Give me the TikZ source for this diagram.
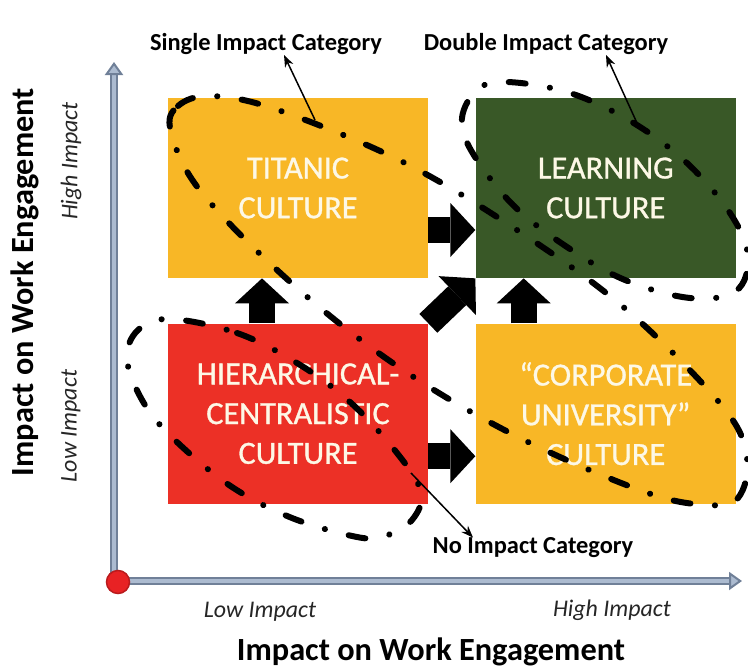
\documentclass[tikz,border=0pt]{standalone}
\usepackage{fontspec}
\setmainfont{Carlito}
\newfontfamily\boxfont[FakeBold=0.9]{Carlito}
\usepackage{tikz}
\usetikzlibrary{arrows.meta,positioning,calc}
\usepackage{xcolor}
\definecolor{gold}{RGB}{248,183,38}
\definecolor{darkgreen}{RGB}{57,88,39}
\definecolor{boxred}{RGB}{236,48,38}
\definecolor{cream}{RGB}{253,248,230}
\definecolor{axisfill}{RGB}{172,187,208}
\definecolor{axisedge}{RGB}{112,128,152}
\definecolor{dotred}{RGB}{232,34,36}
\tikzset{
    culturebox/.style={
        rectangle,
        minimum width=52mm,
        minimum height=36mm,
        inner sep=0pt,
        text=cream,
        align=center,
        font=\boxfont\fontsize{18.4}{22.6}\selectfont
    },
    blockarrow/.style={
        black,
        line width=5.2mm,
        -{Triangle[length=5mm,width=10.8mm,line width=0pt]}
    },
    catloop/.style={
        black,
        line width=1.2mm,
        line cap=round,
        dash pattern=on 3.4mm off 4.9mm on 0.1pt off 4.9mm
    },
    pointer/.style={
        black,
        line width=0.3mm,
        -{Stealth[length=2.4mm,width=1.8mm]}
    },
    axisline/.style={
        draw=axisedge,
        line width=0.4mm,
        double=axisfill,
        double distance=0.8mm,
        -{Triangle[length=2.6mm,width=3.6mm,fill=axisfill]}
    },
    catlabel/.style={
        inner sep=0pt,
        font=\bfseries\fontsize{13.9}{16}\selectfont
    },
    impactlabel/.style={
        text=black!85,
        font=\itshape\fontsize{13.6}{16}\selectfont
    },
    axislabel/.style={
        font=\bfseries\fontsize{18.4}{22}\selectfont
    }
}

\begin{document}
\begin{tikzpicture}[x=0.2mm,y=-0.2mm]
    \useasboundingbox (0,0) rectangle (748,669);

    % Axes
    \coordinate (orig) at (114,581);
    \coordinate (ytip) at (114,62);
    \coordinate (xtip) at (742,581);
    \draw[axisline] (orig) -- (ytip);
    \draw[axisline] (orig) -- (xtip);
    \node[circle, fill=dotred, draw=dotred!80!black, line width=0.3mm,
          minimum size=4.6mm, inner sep=0pt] (origin) at (118,582) {};

    % Culture quadrants
    \node[culturebox, fill=gold] (titanic) at (298,188) {TITANIC\\CULTURE};
    \node[culturebox, fill=darkgreen, right=9.4mm of titanic] (learning) {LEARNING\\CULTURE};
    \node[culturebox, fill=boxred, below=9mm of titanic] (hier) {HIERARCHICAL-\\CENTRALISTIC\\CULTURE};
    \node[culturebox, fill=gold, below=9mm of learning] (corp) {“CORPORATE\\UNIVERSITY”\\CULTURE};

    % Transitions
    \draw[blockarrow] ([yshift=-8.4mm]titanic.east) -- ([yshift=-8.4mm]learning.west);
    \draw[blockarrow] ([yshift=-8.5mm]hier.east) -- ([yshift=-8.5mm]corp.west);
    \draw[blockarrow] ([xshift=-7.2mm]hier.north) -- ([xshift=-7.2mm]titanic.south);
    \draw[blockarrow] ([xshift=-16.4mm]corp.north) -- ([xshift=-16.4mm]learning.south);
    \draw[blockarrow] (hier.north east) -- (learning.south west);

    % Impact categories
    \draw[catloop] plot[smooth cycle, tension=0.6] coordinates {
        (171,132) (178,106) (212,96) (278,110) (403,162) (520,232) (628,311)
        (723,407) (747,458) (738,498) (708,505) (645,492) (520,438) (403,370)
        (297,288) (202,193)};
    \draw[catloop] plot[smooth cycle, tension=0.6] coordinates {
        (472,152) (462,118) (478,89) (508,82) (570,93) (632,122) (687,163)
        (730,213) (748,256) (736,291) (690,298) (625,280) (567,247) (513,205)};
    \draw[catloop] plot[smooth cycle, tension=0.6] coordinates {
        (170,319) (237,333) (297,363) (350,402) (397,453) (421,492) (412,520)
        (385,536) (357,537) (292,518) (232,487) (178,443) (145,405) (127,360)
        (138,330)};

    % Category labels
    \node[catlabel] (singlelbl) at (266,44) {Single Impact Category};
    \node[catlabel] (doublelbl) at (546,44) {Double Impact Category};
    \node[catlabel] (nolbl) at (533,548) {No Impact Category};
    \coordinate (sglfoot) at (315,120);
    \coordinate (dblfoot) at (637,123);
    \coordinate (nofoot) at (411,473);
    \draw[pointer] (sglfoot) -- ([xshift=3.6mm]singlelbl.south);
    \draw[pointer] (dblfoot) -- ([xshift=12mm]doublelbl.south);
    \draw[pointer] (nofoot) -- ([xshift=-12mm]nolbl.north);

    % Axis labels
    \node[impactlabel] (xlow) at (260,612) {Low Impact};
    \node[impactlabel] (xhigh) at (612,610) {High Impact};
    \node[impactlabel, rotate=90] (ylow) at (71,426) {Low Impact};
    \node[impactlabel, rotate=90] (yhigh) at (71,161) {High Impact};
    \node[axislabel] (xtitle) at (431,652) {Impact on Work Engagement};
    \node[axislabel, rotate=90] (ytitle) at (25,282) {Impact on Work Engagement};
\end{tikzpicture}
\end{document}
